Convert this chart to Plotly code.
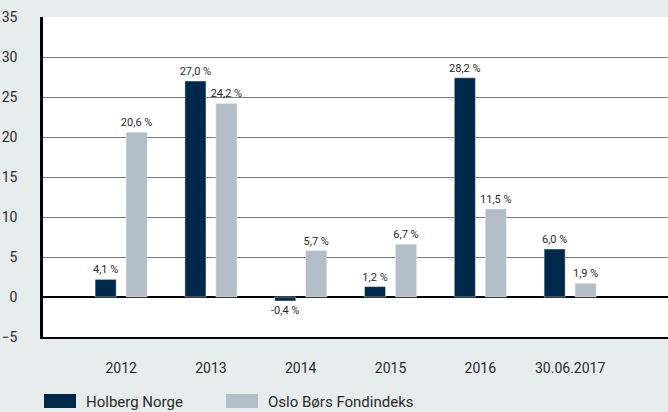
import plotly.graph_objects as go

# categories and values
periods = ["2012", "2013", "2014", "2015", "2016", "30.06.2017"]
holberg = [2.2, 27.0, -0.5, 1.3, 27.4, 6.0]
oslo = [20.6, 24.2, 5.8, 6.6, 11.0, 1.7]
holberg_labels = ["4,1 %", "27,0 %", "-0,4 %", "1,2 %", "28,2 %", "6,0 %"]
oslo_labels = ["20,6 %", "24,2 %", "5,7 %", "6,7 %", "11,5 %", "1,9 %"]
series_names = ["Holberg Norge", "Oslo Børs Fondindeks"]

dark = "#00284a"
grey = "#b4bec8"
bg = "#e7ecec"
txt = "#2a2a2a"
font = "Roboto"

fig = go.Figure()
fig.add_trace(go.Bar(x=periods, y=holberg, name=series_names[0], marker_color=dark,
                     text=holberg_labels, textposition="outside", cliponaxis=False,
                     constraintext="none",
                     textfont=dict(size=11, color=txt, family=font), showlegend=False))
fig.add_trace(go.Bar(x=periods, y=oslo, name=series_names[1], marker_color=grey,
                     text=oslo_labels, textposition="outside", cliponaxis=False,
                     constraintext="none",
                     textfont=dict(size=11, color=txt, family=font), showlegend=False))

# hand-made legend (wide swatches like the original)
W, H = 625, 320
def px_x(p):
    return (p - 43) / W
def px_y(p):
    return (337 - p) / H

for (x0, x1), col, name in [((44, 76), dark, series_names[0]), ((226, 258), grey, series_names[1])]:
    fig.add_shape(type="rect", xref="paper", yref="paper", x0=px_x(x0), x1=px_x(x1),
                  y0=px_y(408), y1=px_y(394), fillcolor=col, line_width=0)
    fig.add_annotation(xref="paper", yref="paper", x=px_x(x1 + 8), y=px_y(402), text=name,
                       showarrow=False, xanchor="left", yanchor="middle",
                       font=dict(size=15, color=txt, family=font))

fig.update_layout(
    width=668, height=412,
    margin=dict(l=43, r=0, t=17, b=75),
    paper_bgcolor=bg, plot_bgcolor="white",
    barmode="group", bargap=0.31, bargroupgap=0.32,
    font=dict(family=font, color=txt),
)
fig.update_xaxes(range=[-0.87, 6.09], showgrid=False, showline=True, linecolor="black",
                 linewidth=1.5, ticks="", ticklabelstandoff=17, automargin=False,
                 tickfont=dict(size=14, color=txt))
fig.update_yaxes(range=[-5, 35], dtick=5, showgrid=True, gridcolor="#7a7a7a", gridwidth=1,
                 zeroline=True, zerolinecolor="black", zerolinewidth=1.5,
                 showline=True, linecolor="black", linewidth=2.5, ticks="",
                 ticklabelstandoff=20, automargin=False, tickfont=dict(size=14, color=txt))

# drop the browser's default page margin so the figure fills the window
fig.write_html("out.html", config={"displayModeBar": False},
               post_script="document.body.style.margin='0';")
